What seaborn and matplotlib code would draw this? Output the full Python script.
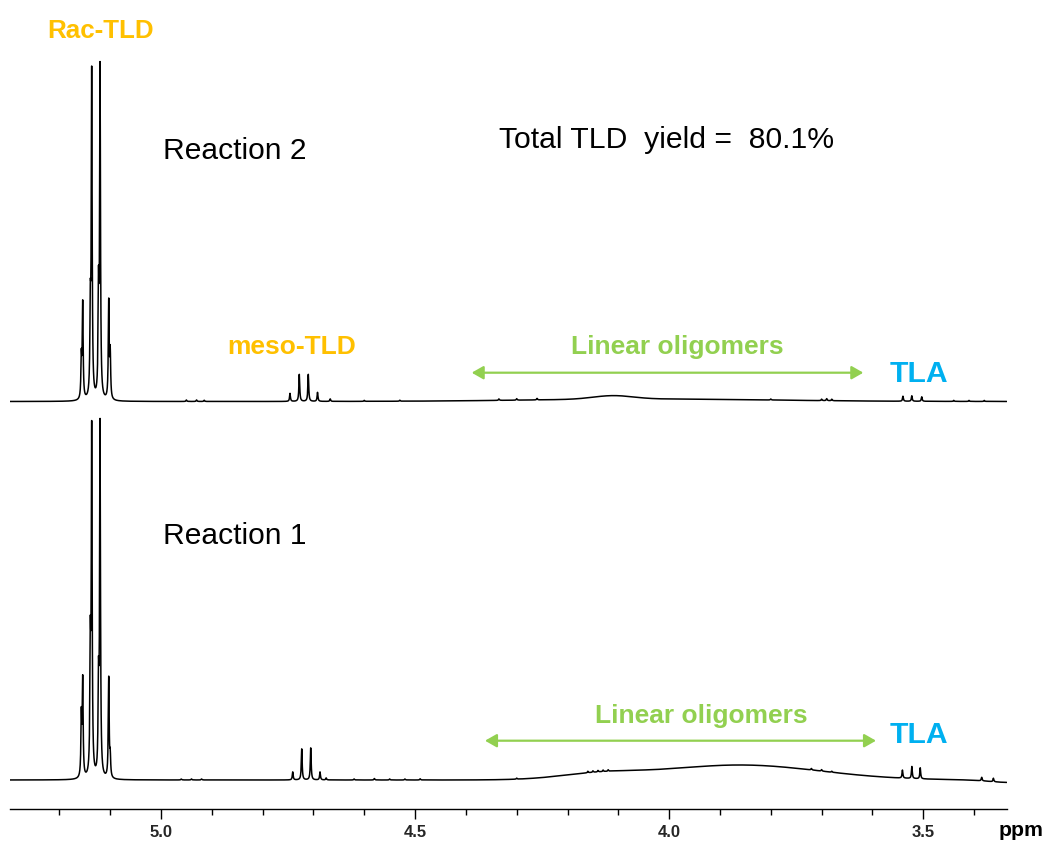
import numpy as np
import pandas as pd
import matplotlib
matplotlib.use("Agg")
import matplotlib.pyplot as plt
from matplotlib.ticker import MultipleLocator, FixedLocator
import seaborn as sns

# ---------------- data ----------------
# sharp lines: chemical shift (ppm) and height (arbitrary units)
r2_line_ppm = [5.1568, 5.1541, 5.1391, 5.1364, 5.1230, 5.1200, 5.1029, 5.1000,
               4.9500, 4.9300, 4.9150,
               4.7462, 4.7279, 4.7102, 4.6920, 4.6670,
               4.6000, 4.5300, 4.3350, 4.3000, 4.2600,
               3.8000, 3.7000, 3.6900, 3.6800,
               3.5400, 3.5226, 3.5030, 3.4400, 3.4100, 3.3800]
r2_line_int = [40, 95, 80, 324, 100, 328, 97, 45,
               1.5, 1.5, 1.2,
               8, 27, 27, 9, 2.5,
               1.0, 1.0, 1.5, 1.5, 1.5,
               1.0, 1.5, 2.0, 1.5,
               5, 5.5, 4.5, 1.0, 1.0, 1.0]
# broad humps: centre (ppm), height, width (ppm)
r2_hump_ppm = [4.0380, 4.1106]
r2_hump_int = [2.5, 3.5]
r2_hump_wid = [0.2360, 0.0390]

r1_line_ppm = [5.1568, 5.1541, 5.1391, 5.1364, 5.1230, 5.1200, 5.1029, 5.1000,
               4.9600, 4.9400, 4.9200,
               4.7408, 4.7231, 4.7054, 4.6871, 4.6750,
               4.6200, 4.5800, 4.5500, 4.5200, 4.4900,
               4.3000, 4.1600, 4.1500, 4.1400, 4.1300, 4.1200,
               3.7200, 3.7000, 3.6800,
               3.5410, 3.5225, 3.5060, 3.3850, 3.3620]
r1_line_int = [60, 96, 120, 343, 85, 351, 100, 20,
               1.0, 1.0, 1.0,
               8, 31, 32, 8, 2,
               1.0, 1.5, 1.0, 1.0, 1.2,
               1.0, 1.5, 1.5, 1.5, 1.5, 1.5,
               1.5, 1.5, 1.0,
               8, 12, 11, 3.5, 3.5]
r1_hump_ppm = [3.8607, 4.1362, 3.3300]
r1_hump_int = [15.0, 5.0, -2.5]
r1_hump_wid = [0.1574, 0.0787, 0.0400]

x_major = [5.0, 4.5, 4.0, 3.5]
x_major_labels = ["5.0", "4.5", "4.0", "3.5"]
x_limits = (5.2972, 3.3359)

# ---------------- build spectra ----------------
LW = 0.001  # Lorentzian half width (ppm)
ppm = np.linspace(x_limits[1], x_limits[0], 24000)


def spectrum(lp, li, hp, hi, hw):
    y = np.zeros_like(ppm)
    for p, h in zip(lp, li):
        y += h * LW**2 / ((ppm - p) ** 2 + LW**2)
    for p, h, w in zip(hp, hi, hw):
        y += h * np.exp(-((ppm - p) ** 2) / (2 * w**2))
    return y


OFF_BOTTOM = 29.0
OFF_TOP = 407.5
df_top = pd.DataFrame({"ppm": ppm,
                       "y": spectrum(r2_line_ppm, r2_line_int, r2_hump_ppm, r2_hump_int, r2_hump_wid) + OFF_TOP})
df_bot = pd.DataFrame({"ppm": ppm,
                       "y": spectrum(r1_line_ppm, r1_line_int, r1_hump_ppm, r1_hump_int, r1_hump_wid) + OFF_BOTTOM})

# ---------------- figure ----------------
sns.set_theme(style="white")
plt.rcParams["font.family"] = ["Liberation Sans", "DejaVu Sans"]

W, H = 1049, 843
fig = plt.figure(figsize=(W / 100, H / 100), dpi=100)
ax = fig.add_axes([10 / W, (H - 809) / H, 996.7 / W, 809 / H])
ax.patch.set_alpha(0)

sns.lineplot(data=df_top, x="ppm", y="y", ax=ax, color="black", lw=1.1,
             estimator=None, sort=False)
sns.lineplot(data=df_bot, x="ppm", y="y", ax=ax, color="black", lw=1.1,
             estimator=None, sort=False)

ax.set_xlim(*x_limits)
ax.set_ylim(0, 809)
ax.set_xlabel("")
ax.set_ylabel("")
ax.set_yticks([])
for s in ["left", "right", "top"]:
    ax.spines[s].set_visible(False)
ax.spines["bottom"].set_color("black")
ax.spines["bottom"].set_linewidth(1.0)
ax.xaxis.set_major_locator(FixedLocator(x_major))
ax.set_xticklabels(x_major_labels, fontsize=12, fontweight="bold")
ax.xaxis.set_minor_locator(MultipleLocator(0.1))
ax.tick_params(axis="x", which="major", direction="out", length=7.2, width=1.0,
               color="black", pad=4.5, bottom=True)
ax.tick_params(axis="x", which="minor", direction="out", length=4.3, width=1.0,
               color="black", bottom=True)


def P(x, y):
    return (x / W, 1 - y / H)


ORANGE = "#FFC000"
GREEN = "#92D050"
BLUE = "#00B0F0"

fig.text(*P(1021, 836), "ppm", ha="center", va="baseline", fontsize=15.3,
         fontweight="bold", color="black")
fig.text(*P(101, 38.3), "Rac-TLD", ha="center", va="baseline", fontsize=18.7,
         fontweight="bold", color=ORANGE)
fig.text(*P(291.5, 354.5), "meso-TLD", ha="center", va="baseline", fontsize=19,
         fontweight="bold", color=ORANGE)
fig.text(*P(163.3, 159.3), "Reaction 2", ha="left", va="baseline", fontsize=21.6,
         color="black")
fig.text(*P(163.3, 544), "Reaction 1", ha="left", va="baseline", fontsize=21.6,
         color="black")
fig.text(*P(499, 148.5), "Total TLD  yield =  80.1%", ha="left", va="baseline",
         fontsize=21.7, color="black")
fig.text(*P(677, 354), "Linear oligomers", ha="center", va="baseline", fontsize=19,
         fontweight="bold", color=GREEN)
fig.text(*P(701, 722.5), "Linear oligomers", ha="center", va="baseline", fontsize=19,
         fontweight="bold", color=GREEN)
fig.text(*P(919, 381.7), "TLA", ha="center", va="baseline", fontsize=21.7,
         fontweight="bold", color=BLUE)
fig.text(*P(919, 743.3), "TLA", ha="center", va="baseline", fontsize=21.7,
         fontweight="bold", color=BLUE)

for (x0, x1, yy) in [(471.7, 863.3, 372.7), (485, 876, 740.7)]:
    fig.add_artist(matplotlib.patches.FancyArrowPatch(
        P(x0, yy), P(x1, yy), transform=fig.transFigure,
        arrowstyle="<|-|>,head_length=7,head_width=4", color=GREEN, lw=1.6,
        shrinkA=0, shrinkB=0, mutation_scale=1))

fig.savefig("out.png", dpi=100)
